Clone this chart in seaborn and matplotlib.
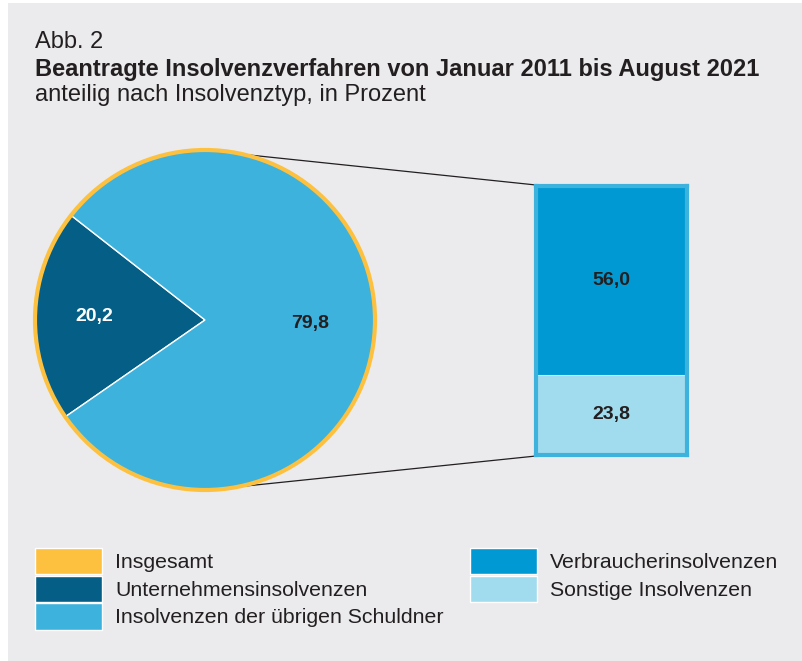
import numpy as np
import pandas as pd
import matplotlib
matplotlib.use("Agg")
import matplotlib.pyplot as plt
from matplotlib.patches import Rectangle, Circle, Patch
import seaborn as sns

# ── data ─────────────────────────────────────────────────────────────
pie_labels = ["Unternehmensinsolvenzen", "Insolvenzen der übrigen Schuldner"]
pie_values = [20.2, 79.8]
bar_labels = ["Verbraucherinsolvenzen", "Sonstige Insolvenzen"]
bar_values = [56.0, 23.8]
total_label = "Insgesamt"

# ── style ────────────────────────────────────────────────────────────
BG = "#ebebed"
TXT = "#231f20"
YELLOW = "#fdc13f"
DARK = "#045e85"
LIGHT = "#3db2dd"
VERB = "#0099d4"
SONST = "#a1dbee"

sns.set_theme(style="white")
plt.rcParams["font.family"] = ["Liberation Sans", "DejaVu Sans"]

W, H = 803, 661
fig = plt.figure(figsize=(W / 100, H / 100), dpi=100, facecolor="white")
fig.patches.append(Rectangle((8 / W, 0), 1, 1 - 3 / H, transform=fig.transFigure,
                             facecolor=BG, edgecolor="none", zorder=-10))

# main axes in pixel units (y upwards)
ax = fig.add_axes([0, 0, 1, 1])
ax.set_facecolor("none")

def fmt(v):
    return f"{v:.1f}".replace(".", ",")

# ── pie ──────────────────────────────────────────────────────────────
cx, cy, r = 205, H - 320, 170
wedges, _ = ax.pie(pie_values, colors=[DARK, LIGHT], startangle=142,
                   center=(cx, cy), radius=r, frame=True,
                   wedgeprops=dict(edgecolor="white", linewidth=1.0))
ax.add_patch(Circle((cx, cy), r, facecolor="none", edgecolor=YELLOW,
                    linewidth=3, zorder=5))
ax.set_xlim(0, W)
ax.set_ylim(0, H)
ax.set_aspect("auto")
ax.axis("off")

# slice labels
start = 142
for v, col, dist in zip(pie_values, ["white", TXT], [0.65, 0.62]):
    mid = np.deg2rad(start + v * 3.6 / 2)
    ax.text(cx + dist * r * np.cos(mid), cy + dist * r * np.sin(mid), fmt(v),
            ha="center", va="center", fontsize=14, fontweight="bold", color=col)
    start += v * 3.6

# ── stacked bar (inset) ──────────────────────────────────────────────
bx0, bx1, by0, by1 = 536, 687, 186, 455
bax = fig.add_axes([bx0 / W, 1 - by1 / H, (bx1 - bx0) / W, (by1 - by0) / H])
df = pd.DataFrame({"pos": ["a"], "top": [sum(bar_values)], "bottom": [bar_values[1]]})
sns.barplot(data=df, x="pos", y="top", color=VERB, saturation=1, width=1,
            edgecolor="none", ax=bax)
sns.barplot(data=df, x="pos", y="bottom", color=SONST, saturation=1, width=1,
            edgecolor="#c8ebf6", linewidth=0.8, ax=bax)
bax.set_xlim(-0.5, 0.5)
bax.set_ylim(0, sum(bar_values))
bax.set_xticks([])
bax.set_yticks([])
bax.set_xlabel("")
bax.set_ylabel("")
bax.set_facecolor(BG)
for s in bax.spines.values():
    s.set_color(LIGHT)
    s.set_linewidth(3)
bax.text(0, bar_values[1] + bar_values[0] / 2, fmt(bar_values[0]), ha="center",
         va="center", fontsize=14, fontweight="bold", color=TXT)
bax.text(0, bar_values[1] / 2, fmt(bar_values[1]), ha="center",
         va="center", fontsize=14, fontweight="bold", color=TXT)

# connector lines from pie to bar
for ang, yb in [(77, H - by0 + 1), (-79, H - by1 - 1)]:
    a = np.deg2rad(ang)
    ax.plot([cx + r * np.cos(a), bx0], [cy + r * np.sin(a), yb],
            color=TXT, linewidth=0.9, zorder=1, solid_capstyle="butt")

# ── titles ───────────────────────────────────────────────────────────
fig.text(35 / W, 1 - 48 / H, "Abb. 2", fontsize=17, color=TXT, va="baseline")
fig.text(35 / W, 1 - 76 / H, "Beantragte Insolvenzverfahren von Januar 2011 bis August 2021",
         fontsize=17, fontweight="bold", color=TXT, va="baseline")
fig.text(35 / W, 1 - 101 / H, "anteilig nach Insolvenztyp, in Prozent",
         fontsize=17, color=TXT, va="baseline")

# ── legends ──────────────────────────────────────────────────────────
fs = 15.3
leg_kw = dict(loc="upper left", bbox_transform=fig.transFigure, frameon=False,
              fontsize=fs, handlelength=67 / (fs * 100 / 72), handleheight=1.54,
              handletextpad=0.62, labelspacing=0.05, borderpad=0, borderaxespad=0,
              labelcolor=TXT)
h1 = [Patch(facecolor=c, edgecolor="white", linewidth=1) for c in [YELLOW, DARK, LIGHT]]
fig.legend(h1, [total_label] + pie_labels, bbox_to_anchor=(35 / W, 1 - 548 / H), **leg_kw)
h2 = [Patch(facecolor=c, edgecolor="white", linewidth=1) for c in [VERB, SONST]]
fig.legend(h2, bar_labels, bbox_to_anchor=(470 / W, 1 - 548 / H), **leg_kw)

fig.savefig("out.png", dpi=100, facecolor=fig.get_facecolor())
